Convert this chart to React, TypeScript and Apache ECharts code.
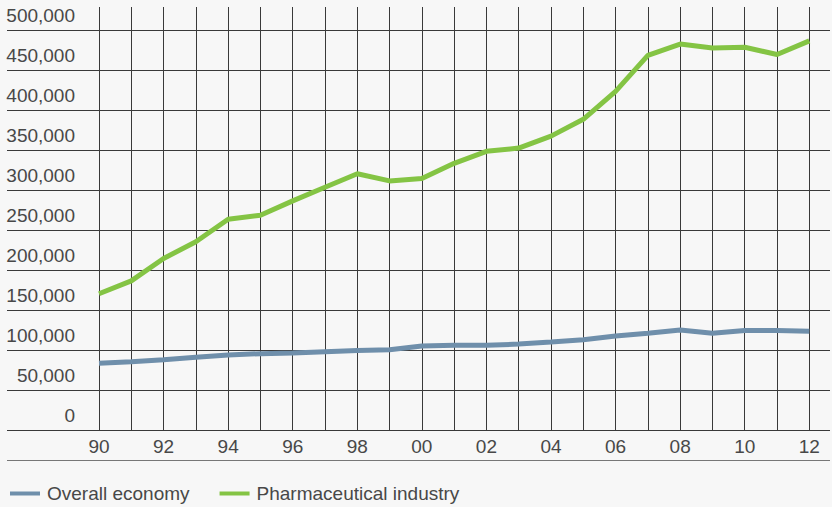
import React, { useEffect, useRef } from "react";
import * as echarts from "echarts";

const years = ["90","91","92","93","94","95","96","97","98","99","00","01","02","03","04","05","06","07","08","09","10","11","12"];
const overallEconomy = [84000, 86000, 88500, 91500, 94500, 96000, 97000, 98500, 100000, 101000, 105500, 106500, 106500, 108000, 110500, 113500, 118000, 121500, 125500, 121500, 125000, 125000, 124000];
const pharmaIndustry = [171000, 187000, 215000, 236000, 264000, 269000, 287000, 304000, 321000, 312000, 315000, 334000, 349000, 353000, 368000, 389000, 424000, 469000, 483000, 478000, 479000, 470000, 487000];
const seriesNames = ["Overall economy", "Pharmaceutical industry"];

const FONT = "'Liberation Sans', Arial, Helvetica, sans-serif";
const TEXT = "#484848";
const GRIDC = "#3a3a3a";

export default function App() {
  const ref = useRef<HTMLDivElement>(null);
  useEffect(() => {
    if (!ref.current) return;
    const chart = echarts.init(ref.current, undefined, { renderer: "svg" });
    chart.setOption({
      animation: false,
      backgroundColor: "#f7f7f7",
      textStyle: { fontFamily: FONT },
      grid: [
        { left: 7, right: 2, top: 30.5, bottom: 76.5 },
        { left: 99, right: 22.7, top: 30.5, bottom: 76.5 },
        { left: 99, right: 22.7, top: 7, bottom: 76.5 },
      ],
      xAxis: [
        { type: "value", gridIndex: 0, show: false, min: 0, max: 1 },
        { type: "category", gridIndex: 1, data: years, boundaryGap: false, show: false },
        {
          type: "category",
          gridIndex: 2,
          data: years,
          boundaryGap: false,
          axisLine: { show: false },
          axisTick: { show: false },
          splitLine: { show: true, interval: 0, lineStyle: { color: GRIDC, width: 1 } },
          axisLabel: { interval: 1, margin: 6, fontSize: 19, color: TEXT, fontFamily: FONT },
        },
      ],
      yAxis: [
        {
          type: "value",
          gridIndex: 0,
          min: 0,
          max: 500000,
          interval: 50000,
          axisLine: { show: false },
          axisTick: { show: false },
          splitLine: { show: true, lineStyle: { color: GRIDC, width: 1 } },
          axisLabel: {
            inside: true,
            margin: 68,
            align: "right",
            verticalAlign: "bottom",
            lineHeight: 19,
            padding: [0, 0, 6, 0],
            fontSize: 19,
            color: TEXT,
            fontFamily: FONT,
            formatter: (v: number) => v.toLocaleString("en-US"),
          },
        },
        { type: "value", gridIndex: 1, min: 0, max: 500000, show: false },
        { type: "value", gridIndex: 2, min: 0, max: 1, show: false },
      ],
      legend: {
        left: 5,
        top: 479,
        icon: "rect",
        itemWidth: 30,
        itemHeight: 4,
        itemGap: 30,
        data: seriesNames,
        textStyle: { fontSize: 19, color: TEXT, fontFamily: FONT, padding: [0, 0, 0, 2] },
      },
      graphic: [
        {
          type: "line",
          shape: { x1: 7, y1: 460.5, x2: 830, y2: 460.5 },
          style: { stroke: "#777", lineWidth: 1 },
          silent: true,
        },
      ],
      series: [
        {
          name: seriesNames[0],
          type: "line",
          xAxisIndex: 1,
          yAxisIndex: 1,
          data: overallEconomy,
          symbol: "none",
          color: "#6f8fab",
          lineStyle: { width: 5, color: "#6f8fab" },
        },
        {
          name: seriesNames[1],
          type: "line",
          xAxisIndex: 1,
          yAxisIndex: 1,
          data: pharmaIndustry,
          symbol: "none",
          color: "#84c444",
          lineStyle: { width: 5, color: "#84c444" },
        },
      ],
    });
    return () => chart.dispose();
  }, []);
  return (
    <div
      ref={ref}
      style={{ position: "fixed", left: 0, top: 0, width: 832, height: 507 }}
    />
  );
}
